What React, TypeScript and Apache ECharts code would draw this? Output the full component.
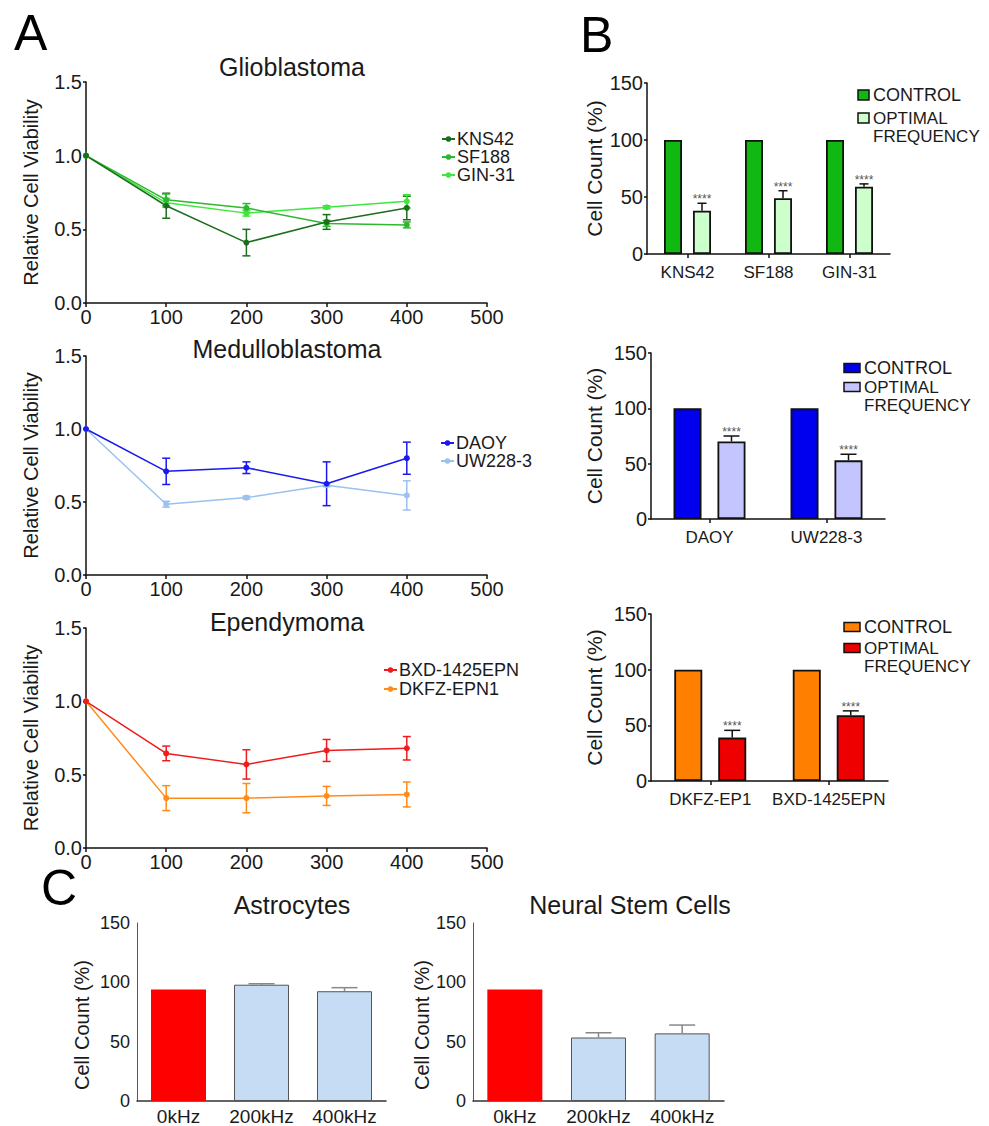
import React, { useEffect, useRef } from "react";
import * as echarts from "echarts";

// ---------- Panel A data (Relative Cell Viability vs frequency) ----------
const doses = [0, 100, 200, 300, 400];
const kns42 = [1.0, 0.66, 0.41, 0.55, 0.645];
const kns42Err = [0, 0.085, 0.09, 0.05, 0.08];
const sf188 = [1.0, 0.70, 0.645, 0.54, 0.53];
const sf188Err = [0, 0.04, 0.03, 0.02, 0.02];
const gin31 = [1.0, 0.68, 0.61, 0.65, 0.69];
const gin31Err = [0, 0.03, 0.02, 0.01, 0.045];
const daoy = [1.0, 0.71, 0.735, 0.625, 0.8];
const daoyErr = [0, 0.09, 0.04, 0.15, 0.11];
const uw228 = [1.0, 0.485, 0.53, 0.615, 0.545];
const uw228Err = [0, 0.02, 0.01, 0.01, 0.1];
const bxd = [1.0, 0.645, 0.57, 0.665, 0.68];
const bxdErr = [0, 0.05, 0.1, 0.075, 0.08];
const dkfz = [1.0, 0.34, 0.34, 0.355, 0.365];
const dkfzErr = [0, 0.085, 0.1, 0.065, 0.085];

// ---------- Panel B data (Cell Count %) ----------
const gbmLines = ["KNS42", "SF188", "GIN-31"];
const gbmControl = [100, 100, 100];
const gbmOptimal = [38, 49, 59];
const gbmOptimalErr = [6.5, 6.5, 2.5];
const mbLines = ["DAOY", "UW228-3"];
const mbControl = [100, 100];
const mbOptimal = [70, 53];
const mbOptimalErr = [5, 5.5];
const epLines = ["DKFZ-EP1", "BXD-1425EPN"];
const epControl = [100, 100];
const epOptimal = [39, 59];
const epOptimalErr = [6.5, 4];

// ---------- Panel C data ----------
const freqs = ["0kHz", "200kHz", "400kHz"];
const astro = [94, 98, 92.5];
const astroErr = [0, 0.8, 3];
const nsc = [94, 53.5, 57];
const nscErr = [0, 4, 7];

const FONT = "Liberation Sans, Arial, Helvetica, sans-serif";
const TXT = "#1a1a1a";

function lineSeries(name: string, ys: number[], color: string, idx: number) {
  return {
    type: "line",
    name,
    xAxisIndex: idx,
    yAxisIndex: idx,
    data: doses.map((d, i) => [d, ys[i]]),
    symbol: "circle",
    symbolSize: 6,
    lineStyle: { color, width: 1.5 },
    itemStyle: { color },
    z: 3,
  };
}

function lineErr(name: string, ys: number[], errs: number[], color: string, idx: number) {
  return {
    type: "custom",
    name: name + " SD",
    xAxisIndex: idx,
    yAxisIndex: idx,
    silent: true,
    z: 2,
    encode: { x: 0, y: 1 },
    data: doses.map((d, i) => [d, ys[i], errs[i]]),
    renderItem: (_p: any, api: any) => {
      const x = api.value(0);
      const y = api.value(1);
      const e = api.value(2);
      if (!e) return { type: "group", children: [] };
      const t = api.coord([x, y + e]);
      const b = api.coord([x, y - e]);
      const cw = 4;
      const st = { stroke: color, lineWidth: 1.5 };
      return {
        type: "group",
        children: [
          { type: "line", shape: { x1: t[0], y1: t[1], x2: b[0], y2: b[1] }, style: st },
          { type: "line", shape: { x1: t[0] - cw, y1: t[1], x2: t[0] + cw, y2: t[1] }, style: st },
          { type: "line", shape: { x1: b[0] - cw, y1: b[1], x2: b[0] + cw, y2: b[1] }, style: st },
        ],
      };
    },
  };
}

function barErr(
  name: string,
  vals: number[],
  errs: number[],
  idx: number,
  offset: number,
  cap: number,
  color: string,
  stars: boolean
) {
  return {
    type: "custom",
    name,
    xAxisIndex: idx,
    yAxisIndex: idx,
    silent: true,
    z: 4,
    encode: { x: 0, y: 1 },
    data: vals.map((v, i) => [i, v, errs[i]]),
    renderItem: (_p: any, api: any) => {
      const i = api.value(0);
      const v = api.value(1);
      const e = api.value(2);
      const c = api.coord([i, v]);
      const t = api.coord([i, v + e]);
      const x = c[0] + offset;
      const st = { stroke: color, lineWidth: 1.5 };
      const children: any[] = [];
      if (e) {
        children.push({ type: "line", shape: { x1: x, y1: c[1], x2: x, y2: t[1] }, style: st });
        children.push({ type: "line", shape: { x1: x - cap, y1: t[1], x2: x + cap, y2: t[1] }, style: st });
      }
      if (stars) {
        children.push({
          type: "text",
          x: x,
          y: t[1] + 2,
          style: {
            text: "****",
            fill: "#555",
            font: "12px " + FONT,
            textAlign: "center",
            textVerticalAlign: "bottom",
            align: "center",
            verticalAlign: "bottom",
          },
        });
      }
      return { type: "group", children };
    },
  };
}

function barPair(
  control: number[],
  optimal: number[],
  idx: number,
  cColor: string,
  oColor: string,
  w: number,
  gap: string
) {
  const base = {
    type: "bar",
    xAxisIndex: idx,
    yAxisIndex: idx,
    barWidth: w,
    barGap: gap,
    silent: true,
  };
  return [
    {
      ...base,
      name: "CONTROL-" + idx,
      data: control,
      itemStyle: { color: cColor, borderColor: "#111", borderWidth: 1.8 },
    },
    {
      ...base,
      name: "OPTIMAL-" + idx,
      data: optimal,
      itemStyle: { color: oColor, borderColor: "#111", borderWidth: 1.8 },
    },
  ];
}

export default function App() {
  const ref = useRef<HTMLDivElement>(null);

  useEffect(() => {
    if (!ref.current) return;
    const chart = echarts.init(ref.current, null, { renderer: "svg" });

    const aGrids = [
      { left: 86, top: 82, width: 401, height: 221 },
      { left: 86, top: 356, width: 401, height: 219 },
      { left: 86, top: 628, width: 401, height: 220 },
    ];
    const bGrids = [
      { left: 647, top: 83, width: 243, height: 171 },
      { left: 651, top: 353, width: 234, height: 166 },
      { left: 651, top: 614, width: 237, height: 167 },
    ];
    const cGrids = [
      { left: 137, top: 923, width: 249, height: 179 },
      { left: 473, top: 923, width: 251, height: 179 },
    ];

    const axisLineBlack = { show: true, lineStyle: { color: "#111", width: 1.5 } };

    const aX = aGrids.map((_, i) => ({
      type: "value",
      gridIndex: i,
      min: 0,
      max: 500,
      interval: 100,
      axisLine: { ...axisLineBlack, onZero: false },
      axisTick: { show: true, length: 4, lineStyle: { color: "#111", width: 1.5 } },
      splitLine: { show: false },
      axisLabel: { fontSize: 20, color: TXT, fontFamily: FONT, margin: 4 },
    }));
    const aY = aGrids.map((_, i) => ({
      type: "value",
      gridIndex: i,
      min: 0,
      max: 1.5,
      interval: 0.5,
      name: "Relative Cell Viability",
      nameLocation: "middle",
      nameGap: 45,
      nameTextStyle: { fontSize: 20, color: TXT, fontFamily: FONT },
      axisLine: axisLineBlack,
      axisTick: { show: true, length: 3, lineStyle: { color: "#111", width: 1.5 } },
      splitLine: { show: false },
      axisLabel: {
        fontSize: 20,
        color: TXT,
        fontFamily: FONT,
        margin: 4,
        formatter: (v: number) => v.toFixed(1),
      },
    }));

    const bCats = [gbmLines, mbLines, epLines];
    const bX = bGrids.map((_, i) => ({
      type: "category",
      gridIndex: 3 + i,
      data: bCats[i],
      axisLine: axisLineBlack,
      axisTick: { show: true, alignWithLabel: true, length: 4, lineStyle: { color: "#111", width: 1.5 } },
      axisLabel: { fontSize: 17, color: TXT, fontFamily: FONT, margin: 10, interval: 0, hideOverlap: false },
    }));
    const bY = bGrids.map((_, i) => ({
      type: "value",
      gridIndex: 3 + i,
      min: 0,
      max: 150,
      interval: 50,
      name: "Cell Count (%)",
      nameLocation: "middle",
      nameGap: i === 0 ? 42 : 46,
      nameTextStyle: { fontSize: 21, color: TXT, fontFamily: FONT },
      axisLine: axisLineBlack,
      axisTick: { show: true, length: 3, lineStyle: { color: "#111", width: 1.5 } },
      splitLine: { show: false },
      axisLabel: { fontSize: 20, color: TXT, fontFamily: FONT, margin: 4 },
    }));

    const cX = cGrids.map((_, i) => ({
      type: "category",
      gridIndex: 6 + i,
      data: freqs,
      axisLine: { show: true, lineStyle: { color: "#333", width: 1.5 } },
      axisTick: { show: false },
      axisLabel: { fontSize: 19, color: TXT, fontFamily: FONT, margin: 6, interval: 0, hideOverlap: false },
    }));
    const cY = cGrids.map((_, i) => ({
      type: "value",
      gridIndex: 6 + i,
      min: 0,
      max: 150,
      interval: 50,
      name: "Cell Count (%)",
      nameLocation: "middle",
      nameGap: i === 0 ? 45 : 41,
      nameTextStyle: { fontSize: 20, color: TXT, fontFamily: FONT, padding: [0, 0, 0, -26] },
      axisLine: { show: true, lineStyle: { color: "#555", width: 1 } },
      axisTick: { show: false },
      splitLine: { show: false },
      axisLabel: { fontSize: 18, color: TXT, fontFamily: FONT, margin: 7 },
    }));

    const C = {
      kns: "#1b6e1b",
      sf: "#2db82d",
      gin: "#3ee63e",
      daoy: "#1a1aee",
      uw: "#99c2f0",
      bxd: "#ee1c1c",
      dkfz: "#ff8c1a",
    };

    const series: any[] = [
      lineErr("KNS42", kns42, kns42Err, C.kns, 0),
      lineErr("SF188", sf188, sf188Err, C.sf, 0),
      lineErr("GIN-31", gin31, gin31Err, C.gin, 0),
      lineSeries("GIN-31", gin31, C.gin, 0),
      lineSeries("SF188", sf188, C.sf, 0),
      lineSeries("KNS42", kns42, C.kns, 0),
      lineErr("DAOY", daoy, daoyErr, C.daoy, 1),
      lineErr("UW228-3", uw228, uw228Err, C.uw, 1),
      lineSeries("UW228-3", uw228, C.uw, 1),
      lineSeries("DAOY", daoy, C.daoy, 1),
      lineErr("BXD-1425EPN", bxd, bxdErr, C.bxd, 2),
      lineErr("DKFZ-EPN1", dkfz, dkfzErr, C.dkfz, 2),
      lineSeries("DKFZ-EPN1", dkfz, C.dkfz, 2),
      lineSeries("BXD-1425EPN", bxd, C.bxd, 2),
      ...barPair(gbmControl, gbmOptimal, 3, "#11b811", "#ccffcc", 18, "61%"),
      barErr("gbm err", gbmOptimal, gbmOptimalErr, 3, 14.5, 4.5, "#111", true),
      ...barPair(mbControl, mbOptimal, 4, "#0000ee", "#c4c4ff", 28, "57%"),
      barErr("mb err", mbOptimal, mbOptimalErr, 4, 22, 8, "#111", true),
      ...barPair(epControl, epOptimal, 5, "#ff8000", "#ee0000", 28, "57%"),
      barErr("ep err", epOptimal, epOptimalErr, 5, 22, 8, "#111", true),
      {
        type: "bar",
        name: "Astrocytes",
        xAxisIndex: 6,
        yAxisIndex: 6,
        barWidth: 55,
        silent: true,
        data: astro.map((v, i) => ({
          value: v,
          itemStyle:
            i === 0
              ? { color: "#ff0000", borderColor: "#ff0000", borderWidth: 0 }
              : { color: "#c6dcf4", borderColor: "#555", borderWidth: 1 },
        })),
      },
      barErr("astro err", astro, astroErr, 6, 0, 13, "#888", false),
      {
        type: "bar",
        name: "Neural Stem Cells",
        xAxisIndex: 7,
        yAxisIndex: 7,
        barWidth: 55,
        silent: true,
        data: nsc.map((v, i) => ({
          value: v,
          itemStyle:
            i === 0
              ? { color: "#ff0000", borderColor: "#ff0000", borderWidth: 0 }
              : { color: "#c6dcf4", borderColor: "#555", borderWidth: 1 },
        })),
      },
      barErr("nsc err", nsc, nscErr, 7, 0, 13, "#888", false),
    ];

    const legendBase = {
      orient: "vertical",
      selectedMode: false,
      padding: 0,
      itemWidth: 13,
      itemHeight: 7,
      textStyle: { fontSize: 18, color: TXT, fontFamily: FONT, padding: [0, 0, 0, -3] },
    };

    const titleStyle = { fontSize: 25, fontWeight: "normal", color: TXT, fontFamily: FONT };

    const bLegend = (x: number, y1: number, y2: number, w: number, h: number, c1: string, c2: string) => [
      {
        type: "rect",
        shape: { x, y: y1 - h / 2, width: w, height: h },
        style: { fill: c1, stroke: "#111", lineWidth: 1.5 },
      },
      {
        type: "text",
        x: x + w + 4,
        y: y1,
        style: {
          text: "CONTROL",
          font: "18px " + FONT,
          fill: TXT,
          textVerticalAlign: "middle",
          verticalAlign: "middle",
        },
      },
      {
        type: "rect",
        shape: { x, y: y2 - h / 2, width: w, height: h },
        style: { fill: c2, stroke: "#111", lineWidth: 1.5 },
      },
      {
        type: "text",
        x: x + w + 4,
        y: y2,
        style: {
          text: "OPTIMAL",
          font: "17px " + FONT,
          fill: TXT,
          textVerticalAlign: "middle",
          verticalAlign: "middle",
        },
      },
      {
        type: "text",
        x: x + w + 4,
        y: y2 + 18,
        style: {
          text: "FREQUENCY",
          font: "17px " + FONT,
          fill: TXT,
          textVerticalAlign: "middle",
          verticalAlign: "middle",
        },
      },
    ];

    const panelLabel = (t: string, x: number, y: number) => ({
      type: "text",
      x,
      y,
      style: {
        text: t,
        font: "50px " + FONT,
        fill: "#000",
        textVerticalAlign: "top",
        verticalAlign: "top",
      },
    });

    chart.setOption({
      animation: false,
      backgroundColor: "#fff",
      title: [
        { text: "Glioblastoma", left: 287, top: 49, textAlign: "center", textStyle: titleStyle },
        { text: "Medulloblastoma", left: 282, top: 331, textAlign: "center", textStyle: titleStyle },
        { text: "Ependymoma", left: 282, top: 604, textAlign: "center", textStyle: titleStyle },
        { text: "Astrocytes", left: 287, top: 887, textAlign: "center", textStyle: titleStyle },
        { text: "Neural Stem Cells", left: 625, top: 887, textAlign: "center", textStyle: titleStyle },
      ],
      legend: [
        {
          ...legendBase,
          left: 441,
          top: 130,
          itemGap: 0,
          data: ["KNS42", "SF188", "GIN-31"],
        },
        {
          ...legendBase,
          left: 440,
          top: 434,
          itemGap: 0,
          data: ["DAOY", "UW228-3"],
        },
        {
          ...legendBase,
          left: 383,
          top: 661,
          itemGap: 1,
          data: ["BXD-1425EPN", "DKFZ-EPN1"],
        },
      ],
      grid: [...aGrids, ...bGrids, ...cGrids].map((g) => ({ ...g, containLabel: false })),
      xAxis: [...aX, ...bX, ...cX],
      yAxis: [...aY, ...bY, ...cY],
      series,
      graphic: [
        panelLabel("A", 14, 8),
        panelLabel("B", 580, 10),
        panelLabel("C", 41, 863),
        ...bLegend(858, 95, 118, 11, 10, "#11b811", "#ccffcc"),
        ...bLegend(844, 368, 387, 16, 9, "#0000ee", "#c4c4ff"),
        ...bLegend(844, 627, 648, 16, 9, "#ff8000", "#ee0000"),
      ],
    });

    return () => chart.dispose();
  }, []);

  return (
    <div
      ref={ref}
      style={{ position: "absolute", left: 0, top: 0, width: 989, height: 1126, background: "#fff" }}
    />
  );
}
